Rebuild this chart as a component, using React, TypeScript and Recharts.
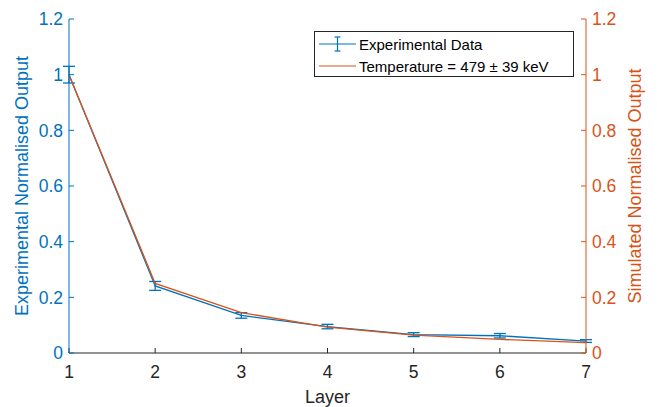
import React from 'react';
import {
  ComposedChart,
  Line,
  XAxis,
  YAxis,
  ErrorBar,
} from 'recharts';

const BLUE = '#0072BD';
const ORANGE = '#D95319';
const DARK = '#262626';
const FONT = '"Liberation Sans", Arial, Helvetica, sans-serif';

// Values
const layers = [1, 2, 3, 4, 5, 6, 7];
const experimental = [1.0, 0.241, 0.135, 0.095, 0.066, 0.062, 0.043];
const experimentalErr = [0.03, 0.016, 0.01, 0.008, 0.007, 0.008, 0.005];
const simulated = [1.0, 0.25, 0.145, 0.093, 0.064, 0.049, 0.037];
const yTicks = [0, 0.2, 0.4, 0.6, 0.8, 1, 1.2];

const data = layers.map((layer, i) => ({
  layer,
  experimental: experimental[i],
  err: experimentalErr[i],
  simulated: simulated[i],
}));

// legend drawn on top of the chart so it doesn't take layout space
function LegendBox() {
  return (
    <div
      style={{
        position: 'absolute',
        left: 314,
        top: 31,
        width: 258,
        height: 44,
        border: '1px solid #262626',
        background: '#fff',
        fontFamily: FONT,
        fontSize: 15,
        color: '#000',
        boxSizing: 'content-box',
      }}
    >
      <div style={{ display: 'flex', alignItems: 'center', height: 22, marginTop: 1 }}>
        <svg width={44} height={20}>
          <line x1={4} y1={10} x2={41} y2={10} stroke={BLUE} strokeWidth={1.2} />
          <line x1={22.5} y1={3} x2={22.5} y2={17} stroke={BLUE} strokeWidth={1.2} />
          <line x1={19.5} y1={3} x2={25.5} y2={3} stroke={BLUE} strokeWidth={1.2} />
          <line x1={19.5} y1={17} x2={25.5} y2={17} stroke={BLUE} strokeWidth={1.2} />
        </svg>
        <span>Experimental Data</span>
      </div>
      <div style={{ display: 'flex', alignItems: 'center', height: 22 }}>
        <svg width={44} height={20}>
          <line x1={4} y1={10} x2={41} y2={10} stroke={ORANGE} strokeWidth={1.2} />
        </svg>
        <span>Temperature = 479 ± 39 keV</span>
      </div>
    </div>
  );
}

export default function App() {
  const tickStyle = { fontFamily: FONT, fontSize: 17.5 };
  return (
    <div style={{ position: 'absolute', left: 0, top: 0, width: 657, height: 407, background: '#fff' }}>
      <ComposedChart
        width={657}
        height={407}
        data={data}
        margin={{ top: 19, right: 0, bottom: 0, left: 0 }}
      >
        <XAxis
          xAxisId="bottom"
          dataKey="layer"
          type="number"
          domain={[1, 7]}
          ticks={layers}
          height={54}
          stroke={DARK}
          tickSize={-5}
          tickMargin={18}
          tick={{ ...tickStyle, fill: DARK }}
          label={{
            value: 'Layer',
            position: 'insideBottom',
            offset: 4,
            style: { fontFamily: FONT, fontSize: 18, fill: DARK },
          }}
        />
        <XAxis
          xAxisId="top"
          orientation="top"
          dataKey="layer"
          type="number"
          domain={[1, 7]}
          ticks={layers}
          height={0}
          stroke={DARK}
          tickSize={-5}
          tick={false}
        />
        <YAxis
          yAxisId="left"
          orientation="left"
          domain={[0, 1.2]}
          ticks={yTicks}
          width={69}
          stroke={BLUE}
          tickSize={-5}
          tickMargin={11}
          tick={{ ...tickStyle, fill: BLUE }}
          tickFormatter={(v: number) => String(v)}
          label={{
            value: 'Experimental Normalised Output',
            angle: -90,
            position: 'center',
            dx: -13,
            style: { fontFamily: FONT, fontSize: 18, fill: BLUE },
          }}
        />
        <YAxis
          yAxisId="right"
          orientation="right"
          domain={[0, 1.2]}
          ticks={yTicks}
          width={71}
          stroke={ORANGE}
          tickSize={-5}
          tickMargin={11}
          tick={{ ...tickStyle, fill: ORANGE }}
          tickFormatter={(v: number) => String(v)}
          label={{
            value: 'Simulated Normalised Output',
            angle: -90,
            position: 'center',
            dx: 13,
            style: { fontFamily: FONT, fontSize: 18, fill: ORANGE },
          }}
        />
        <Line
          xAxisId="bottom"
          yAxisId="left"
          dataKey="experimental"
          stroke={BLUE}
          strokeWidth={1.3}
          dot={false}
          isAnimationActive={false}
        >
          <ErrorBar dataKey="err" width={6} stroke={BLUE} strokeWidth={1.3} />
        </Line>
        <Line
          xAxisId="bottom"
          yAxisId="right"
          dataKey="simulated"
          stroke={ORANGE}
          strokeWidth={1.3}
          dot={false}
          isAnimationActive={false}
        />
      </ComposedChart>
      <LegendBox />
    </div>
  );
}
